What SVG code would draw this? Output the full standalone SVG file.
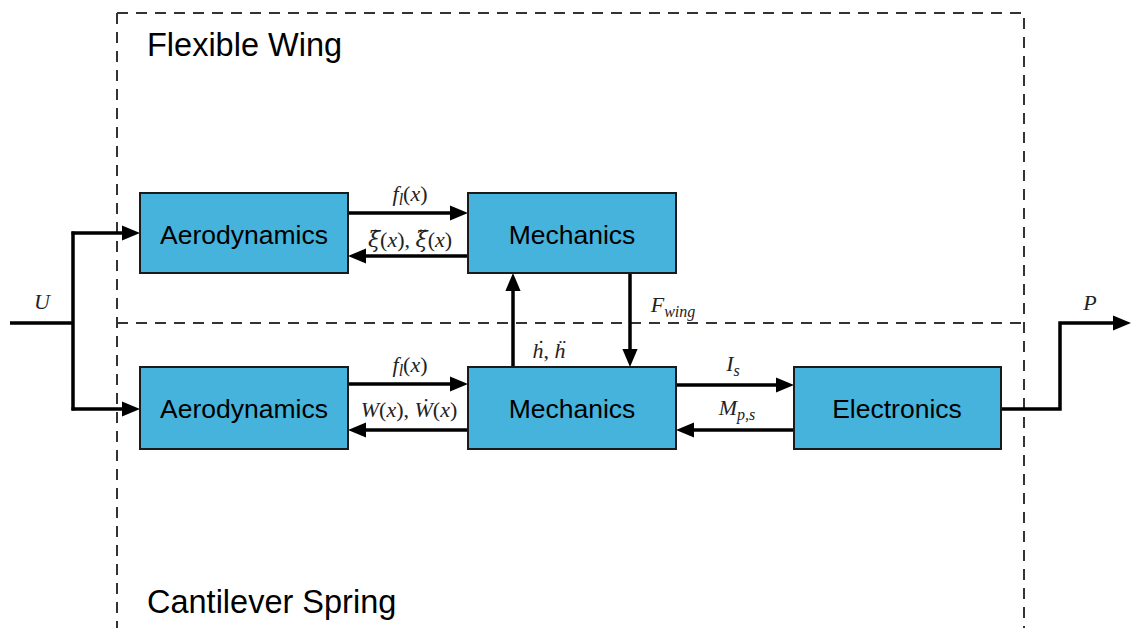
<svg xmlns="http://www.w3.org/2000/svg" width="1131" height="628" viewBox="0 0 1131 628">
<style>
.box{fill:#45b3dc;stroke:#1a1a1a;stroke-width:2}
.bt{font-family:"Liberation Sans",Arial,sans-serif;font-size:26.5px;fill:#000;text-anchor:middle;dominant-baseline:central}
.title{font-family:"Liberation Sans",Arial,sans-serif;font-size:32.5px;fill:#000}
.dash{fill:none;stroke:#333;stroke-width:2;stroke-dasharray:11,8}
.c{fill:none;stroke:#000;stroke-width:3.5}
.m{font-family:"Liberation Serif","Times New Roman",serif;font-style:italic;font-size:22px;fill:#222;text-anchor:middle}
.mu{font-style:normal}
.dv{font-family:"DejaVu Serif",serif}
</style>
<defs>
<marker id="ah" markerWidth="5.2" markerHeight="4.4" refX="2.2" refY="2.2" orient="auto" markerUnits="strokeWidth">
<path d="M0,0 L5.2,2.2 L0,4.4 z" fill="#000"/>
</marker>
</defs>
<g id="frames">
<path class="dash" d="M117,13 H1024 V640 M117,13 V640"/>
<path class="dash" d="M117,323 H1024"/>
<text class="title" x="147" y="56">Flexible Wing</text>
<text class="title" x="147" y="613">Cantilever Spring</text>
</g>
<g id="connectors">
<path class="c" d="M10,323 H73 M73,231.5 V410.5"/>
<path class="c" d="M71.5,233 H129.5" marker-end="url(#ah)"/>
<path class="c" d="M71.5,409 H129.5" marker-end="url(#ah)"/>
<path class="c" d="M348,213 H457.5" marker-end="url(#ah)"/>
<path class="c" d="M468,256 H358.5" marker-end="url(#ah)"/>
<path class="c" d="M348,384 H457.5" marker-end="url(#ah)"/>
<path class="c" d="M468,430 H358.5" marker-end="url(#ah)"/>
<path class="c" d="M513,367 V283.5" marker-end="url(#ah)"/>
<path class="c" d="M630,273 V356.5" marker-end="url(#ah)"/>
<path class="c" d="M676,385 H783.5" marker-end="url(#ah)"/>
<path class="c" d="M794,430 H686.5" marker-end="url(#ah)"/>
<path class="c" d="M1001,409 H1060 V323 H1120.5" marker-end="url(#ah)"/>
<text class="m" x="42" y="309">U</text>
<text class="m" x="410" y="201">f<tspan font-size="16" dy="4">l</tspan><tspan class="mu" dy="-4">(</tspan>x<tspan class="mu">)</tspan></text>
<text class="m" x="410" y="247" font-size="19"><tspan class="dv">ξ̇</tspan><tspan class="mu">(</tspan>x<tspan class="mu">), </tspan><tspan class="dv">ξ̈</tspan><tspan class="mu">(</tspan>x<tspan class="mu">)</tspan></text>
<text class="m" x="410" y="372">f<tspan font-size="16" dy="4">l</tspan><tspan class="mu" dy="-4">(</tspan>x<tspan class="mu">)</tspan></text>
<text class="m" x="409" y="417" font-size="19">W<tspan class="mu">(</tspan>x<tspan class="mu">), </tspan>Ẇ<tspan class="mu">(</tspan>x<tspan class="mu">)</tspan></text>
<text class="m" x="549" y="358">ḣ<tspan class="mu">, </tspan>ḧ</text>
<text class="m" x="673" y="312">F<tspan font-size="16" dy="5">wing</tspan></text>
<text class="m" x="733" y="371">I<tspan font-size="16" dy="5">s</tspan></text>
<text class="m" x="737" y="415">M<tspan font-size="16" dy="5">p,s</tspan></text>
<text class="m" x="1090" y="310">P</text>
</g>
<g id="aero1"><rect class="box" x="140" y="193" width="208" height="80"/><text class="bt" x="244" y="235">Aerodynamics</text></g>
<g id="mech1"><rect class="box" x="468" y="193" width="208" height="80"/><text class="bt" x="572" y="235">Mechanics</text></g>
<g id="aero2"><rect class="box" x="140" y="367" width="208" height="82"/><text class="bt" x="244" y="409">Aerodynamics</text></g>
<g id="mech2"><rect class="box" x="468" y="367" width="208" height="82"/><text class="bt" x="572" y="409">Mechanics</text></g>
<g id="elec"><rect class="box" x="794" y="367" width="207" height="82"/><text class="bt" x="897" y="409">Electronics</text></g>
</svg>
